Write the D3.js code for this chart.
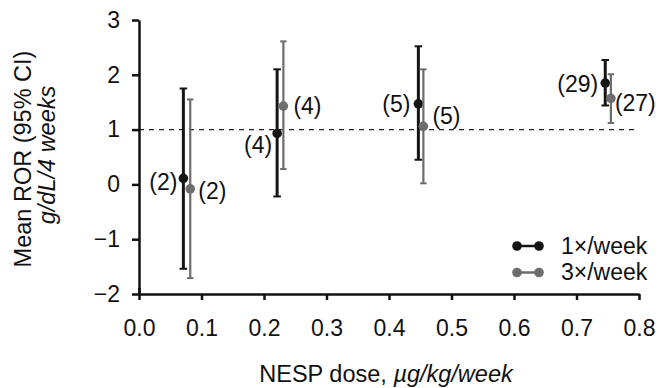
<!DOCTYPE html>
<html>
<head>
<meta charset="utf-8">
<script src="https://cdn.jsdelivr.net/npm/d3@7"></script>
<style>
  body { margin: 0; background: #fff; }
  svg text { font-family: "Liberation Sans", Arial, Helvetica, sans-serif; }
</style>
</head>
<body>
<div id="vis"></div>
<script>
// values
var doses1 = [0.071, 0.221, 0.447, 0.746];
var mean1 = [0.11, 0.93, 1.47, 1.85];
var lo1 = [-1.54, -0.22, 0.45, 1.44];
var hi1 = [1.75, 2.10, 2.52, 2.27];
var n1 = [2, 4, 5, 29];

var doses3 = [0.082, 0.231, 0.455, 0.755];
var mean3 = [-0.08, 1.43, 1.06, 1.57];
var lo3 = [-1.71, 0.28, 0.02, 1.12];
var hi3 = [1.55, 2.61, 2.10, 2.01];
var n3 = [2, 4, 5, 27];

var xTicks = [0, 0.1, 0.2, 0.3, 0.4, 0.5, 0.6, 0.7, 0.8];
var yTicks = [-2, -1, 0, 1, 2, 3];
var refValue = 1;
var seriesNames = ["1\u00d7/week", "3\u00d7/week"];

// where each (n) label sits next to its point
var labelPos1 = [
  { dx: -6, dy: 12, anchor: "end" },
  { dx: -5, dy: 20, anchor: "end" },
  { dx: -8, dy: 8, anchor: "end" },
  { dx: -7, dy: 9, anchor: "end" }
];
var labelPos3 = [
  { dx: 8, dy: 10, anchor: "start" },
  { dx: 10, dy: 8, anchor: "start" },
  { dx: 9, dy: -2, anchor: "start" },
  { dx: 4, dy: 13, anchor: "start" }
];

var width = 658;
var height = 388;
var margin = { top: 20, left: 139, bottom: 94, right: 19 };

var black = "#151515";
var gray = "#6d6d6d";

var svg = d3.select("#vis").append("svg")
  .attr("width", width)
  .attr("height", height);

var x = d3.scaleLinear().domain([0, 0.8]).range([margin.left, width - margin.right]);
var y = d3.scaleLinear().domain([-2, 3]).range([height - margin.bottom, margin.top]);

// reference line
svg.append("line")
  .attr("x1", x(0)).attr("x2", x(0.8))
  .attr("y1", y(refValue)).attr("y2", y(refValue))
  .attr("stroke", "#222")
  .attr("stroke-width", 1.4)
  .attr("stroke-dasharray", "5,5");

// axes
var xAxis = svg.append("g")
  .attr("transform", "translate(0," + y(-2) + ")")
  .call(d3.axisBottom(x).tickValues(xTicks).tickFormat(d3.format(".1f"))
    .tickSize(6).tickSizeOuter(0).tickPadding(20));

var yAxis = svg.append("g")
  .attr("transform", "translate(" + x(0) + ",0)")
  .call(d3.axisLeft(y).tickValues(yTicks).tickFormat(d3.format("d"))
    .tickSize(7).tickSizeOuter(0).tickPadding(12));

[xAxis, yAxis].forEach(function (a) {
  a.select(".domain").attr("stroke", "#111").attr("stroke-width", 2.5);
  a.selectAll(".tick line").attr("stroke", "#111").attr("stroke-width", 2.5);
  a.selectAll(".tick text")
    .attr("fill", "#111")
    .style("font-size", "23px")
    .style("font-family", "'Liberation Sans', Arial, sans-serif");
});
// small stub below the origin, as in the figure
xAxis.select(".tick line").attr("y1", -6);

// error bars + points
function drawSeries(doses, means, lo, hi, ns, pos, color, sw, cap, cls) {
  var data = doses.map(function (d, i) {
    return { x: d, m: means[i], lo: lo[i], hi: hi[i], n: ns[i], p: pos[i] };
  });
  var g = svg.append("g").attr("class", cls);

  g.selectAll(".bar").data(data).enter().append("line")
    .attr("x1", function (d) { return x(d.x); })
    .attr("x2", function (d) { return x(d.x); })
    .attr("y1", function (d) { return y(d.lo); })
    .attr("y2", function (d) { return y(d.hi); })
    .attr("stroke", color).attr("stroke-width", sw);

  ["lo", "hi"].forEach(function (k) {
    g.selectAll(".cap-" + k).data(data).enter().append("line")
      .attr("x1", function (d) { return x(d.x) - cap; })
      .attr("x2", function (d) { return x(d.x) + cap; })
      .attr("y1", function (d) { return y(d[k]); })
      .attr("y2", function (d) { return y(d[k]); })
      .attr("stroke", color).attr("stroke-width", 2);
  });

  g.selectAll("circle").data(data).enter().append("circle")
    .attr("cx", function (d) { return x(d.x); })
    .attr("cy", function (d) { return y(d.m); })
    .attr("r", 4.8)
    .attr("fill", color);

  g.selectAll("text").data(data).enter().append("text")
    .attr("x", function (d) { return x(d.x) + d.p.dx; })
    .attr("y", function (d) { return y(d.m) + d.p.dy; })
    .attr("text-anchor", function (d) { return d.p.anchor; })
    .attr("fill", "#111")
    .style("font-size", "23px")
    .text(function (d) { return "(" + d.n + ")"; });
}

drawSeries(doses1, mean1, lo1, hi1, n1, labelPos1, black, 3, 3.8, "s1");
drawSeries(doses3, mean3, lo3, hi3, n3, labelPos3, gray, 2.2, 3.2, "s3");

// legend
var legend = svg.append("g").attr("transform", "translate(517,246)");
[black, gray].forEach(function (c, i) {
  var row = legend.append("g").attr("transform", "translate(0," + (i * 26.5) + ")");
  row.append("line").attr("x1", 0).attr("x2", 22).attr("y1", 0).attr("y2", 0)
    .attr("stroke", c).attr("stroke-width", 2.5);
  row.append("circle").attr("cx", 0).attr("cy", 0).attr("r", 4.8).attr("fill", c);
  row.append("circle").attr("cx", 22).attr("cy", 0).attr("r", 4.8).attr("fill", c);
  row.append("text").attr("x", 44).attr("y", 7.5)
    .attr("fill", "#111")
    .style("font-size", "23px")
    .text(seriesNames[i]);
});

// axis titles
svg.append("text")
  .attr("text-anchor", "middle")
  .attr("x", 386).attr("y", 382)
  .attr("fill", "#111")
  .style("font-size", "23.5px")
  .html("NESP dose, <tspan font-style='italic'>\u00b5g/kg/week</tspan>");

svg.append("text")
  .attr("text-anchor", "middle")
  .attr("transform", "translate(31,159) rotate(-90)")
  .attr("fill", "#111")
  .style("font-size", "23.5px")
  .text("Mean ROR (95% CI)");

svg.append("text")
  .attr("text-anchor", "middle")
  .attr("transform", "translate(55,155) rotate(-90)")
  .attr("fill", "#111")
  .style("font-size", "23.5px")
  .style("font-style", "italic")
  .text("g/dL/4 weeks");
</script>
</body>
</html>
